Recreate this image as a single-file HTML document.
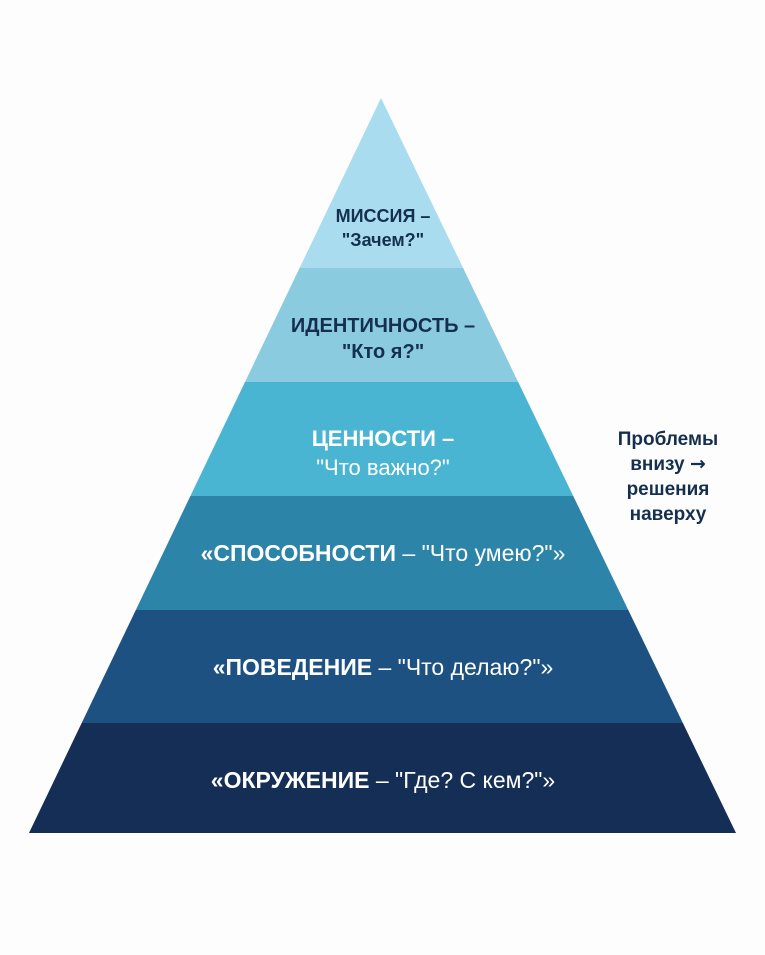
<!DOCTYPE html>
<html><head><meta charset="utf-8"><style>
body{margin:0;background:#fdfdfd;width:765px;height:950px;overflow:hidden}
svg text{font-family:"Liberation Sans",sans-serif}
</style></head><body>
<svg width="765" height="950" viewBox="0 0 765 950">
<defs><clipPath id="c"><polygon points="381,98 736,833 29,833"/></clipPath></defs>
<g clip-path="url(#c)">
<rect x="0" y="90" width="765" height="178" fill="#a9dcef"/>
<rect x="0" y="268" width="765" height="114" fill="#8bcbe0"/>
<rect x="0" y="382" width="765" height="114" fill="#4ab5d2"/>
<rect x="0" y="496" width="765" height="114" fill="#2d84a9"/>
<rect x="0" y="610" width="765" height="113" fill="#1d5182"/>
<rect x="0" y="723" width="765" height="110" fill="#142e56"/>
</g>
<g text-anchor="middle">
<text x="383" y="222" font-size="18" font-weight="bold" fill="#15304f">МИССИЯ –</text>
<text x="383" y="246" font-size="18" font-weight="bold" fill="#15304f">"Зачем?"</text>
<text x="383" y="332" font-size="20" font-weight="bold" fill="#15304f">ИДЕНТИЧНОСТЬ –</text>
<text x="383" y="358" font-size="20" font-weight="bold" fill="#15304f">"Кто я?"</text>
<text x="383" y="446" font-size="22" font-weight="bold" fill="#fff">ЦЕННОСТИ –</text>
<text x="383" y="475" font-size="22" fill="#fff">"Что важно?"</text>
<text x="383" y="561" font-size="23" fill="#fff"><tspan font-weight="bold">«СПОСОБНОСТИ</tspan> – "Что умею?"»</text>
<text x="383" y="675" font-size="23" fill="#fff"><tspan font-weight="bold">«ПОВЕДЕНИЕ</tspan> – "Что делаю?"»</text>
<text x="383" y="788" font-size="23" fill="#fff"><tspan font-weight="bold">«ОКРУЖЕНИЕ</tspan> – "Где? С кем?"»</text>
<text x="668" y="445" font-size="19" font-weight="bold" fill="#15304f">Проблемы</text>
<text x="668" y="470" font-size="19" font-weight="bold" fill="#15304f">внизу <tspan font-family="DejaVu Sans">→</tspan></text>
<text x="668" y="495" font-size="19" font-weight="bold" fill="#15304f">решения</text>
<text x="668" y="520" font-size="19" font-weight="bold" fill="#15304f">наверху</text>
</g>
</svg>
</body></html>
